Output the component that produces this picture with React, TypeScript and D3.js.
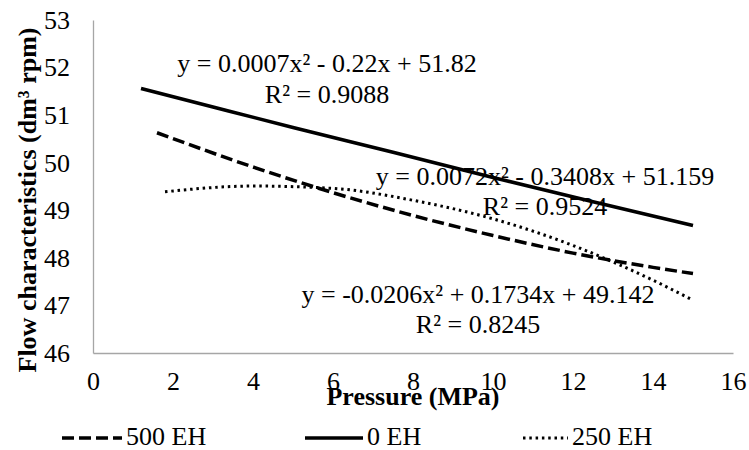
import React, { useEffect, useRef } from 'react';
import * as d3 from 'd3';

const pressure0 = [1.2, 3, 5, 7.5, 10, 12.5, 15];
const flow0 = [51.56, 51.17, 50.74, 50.22, 49.69, 49.18, 48.68];

const pressure500 = [1.6, 4, 6, 8, 10, 12, 14, 15];
const flow500 = [50.63, 49.91, 49.37, 48.89, 48.47, 48.10, 47.80, 47.67];

const pressure250 = [1.8, 4, 6, 8, 10, 12, 14, 15];
const flow250 = [49.39, 49.51, 49.46, 49.21, 48.82, 48.26, 47.53, 47.11];

const xTicks = [0, 2, 4, 6, 8, 10, 12, 14, 16];
const yTicks = [46, 47, 48, 49, 50, 51, 52, 53];

const seriesNames = ['500 EH', '0 EH', '250 EH'];

const FONT = "'Liberation Serif', 'Times New Roman', Times, serif";

const App = () => {
    const svgRef = useRef<SVGSVGElement>(null);

    useEffect(() => {
        const width = 749;
        const height = 450;

        const svg = d3.select(svgRef.current)
            .attr('width', width)
            .attr('height', height)
            .attr('font-family', FONT);

        svg.selectAll('*').remove();

        const x = d3.scaleLinear().domain([0, 16]).range([93, 733]);
        const y = d3.scaleLinear().domain([46, 53]).range([353, 20]);

        // axes, no tick marks, grey domain line
        const xAxis = svg.append('g')
            .attr('transform', `translate(0, ${y(46)})`)
            .call(d3.axisBottom(x).tickValues(xTicks).tickSize(0).tickPadding(19).tickFormat(d3.format('d')));
        const yAxis = svg.append('g')
            .attr('transform', `translate(${x(0)}, 0)`)
            .call(d3.axisLeft(y).tickValues(yTicks).tickSize(0).tickPadding(23).tickFormat(d3.format('d')));

        [xAxis, yAxis].forEach(ax => {
            ax.attr('font-family', FONT).attr('font-size', 26);
            ax.select('.domain').attr('stroke', '#a6a6a6').attr('stroke-width', 1.3);
            ax.selectAll('text').attr('fill', '#000');
        });

        const line = d3.line<[number, number]>()
            .x(d => x(d[0]))
            .y(d => y(d[1]))
            .curve(d3.curveMonotoneX);

        const series = [
            { xs: pressure500, ys: flow500, dash: '12,5', w: 3.5 },
            { xs: pressure0, ys: flow0, dash: null, w: 3.5 },
            { xs: pressure250, ys: flow250, dash: '2.5,3.8', w: 3 }
        ];

        series.forEach(s => {
            const pts = s.xs.map((p, i) => [p, s.ys[i]] as [number, number]);
            svg.append('path')
                .attr('d', line(pts))
                .attr('fill', 'none')
                .attr('stroke', '#000')
                .attr('stroke-width', s.w)
                .attr('stroke-dasharray', s.dash);
        });

        // trendline equations
        const labels = [
            { cx: 327, y1: 72, y2: 103, eq: 'y = 0.0007x² - 0.22x + 51.82', r2: 'R² = 0.9088' },
            { cx: 545, y1: 185, y2: 215, eq: 'y = 0.0072x² - 0.3408x + 51.159', r2: 'R² = 0.9524' },
            { cx: 478, y1: 303, y2: 333, eq: 'y = -0.0206x² + 0.1734x + 49.142', r2: 'R² = 0.8245' }
        ];
        labels.forEach(l => {
            svg.append('text')
                .attr('x', l.cx).attr('y', l.y1)
                .attr('text-anchor', 'middle')
                .attr('font-size', 26)
                .text(l.eq);
            svg.append('text')
                .attr('x', l.cx).attr('y', l.y2)
                .attr('text-anchor', 'middle')
                .attr('font-size', 26)
                .text(l.r2);
        });

        // axis titles
        svg.append('text')
            .attr('x', 413).attr('y', 405)
            .attr('text-anchor', 'middle')
            .attr('font-size', 26)
            .attr('font-weight', 'bold')
            .text('Pressure (MPa)');

        svg.append('text')
            .attr('transform', 'translate(36, 200) rotate(-90)')
            .attr('text-anchor', 'middle')
            .attr('font-size', 26)
            .attr('font-weight', 'bold')
            .text('Flow characteristics (dm³ rpm)');

        // legend
        const legendX = [62, 305, 523];
        const legendLen = [60, 58, 45];
        series.forEach((s, i) => {
            const g = svg.append('g');
            g.append('line')
                .attr('x1', legendX[i]).attr('x2', legendX[i] + legendLen[i])
                .attr('y1', 438).attr('y2', 438)
                .attr('stroke', '#000')
                .attr('stroke-width', s.w)
                .attr('stroke-dasharray', s.dash);
            g.append('text')
                .attr('x', legendX[i] + legendLen[i] + 4)
                .attr('y', 445)
                .attr('font-size', 26)
                .text(seriesNames[i]);
        });
    }, []);

    return (
        <svg ref={svgRef} style={{ position: 'absolute', left: 0, top: 0, background: '#fff' }}></svg>
    );
};

export default App;
